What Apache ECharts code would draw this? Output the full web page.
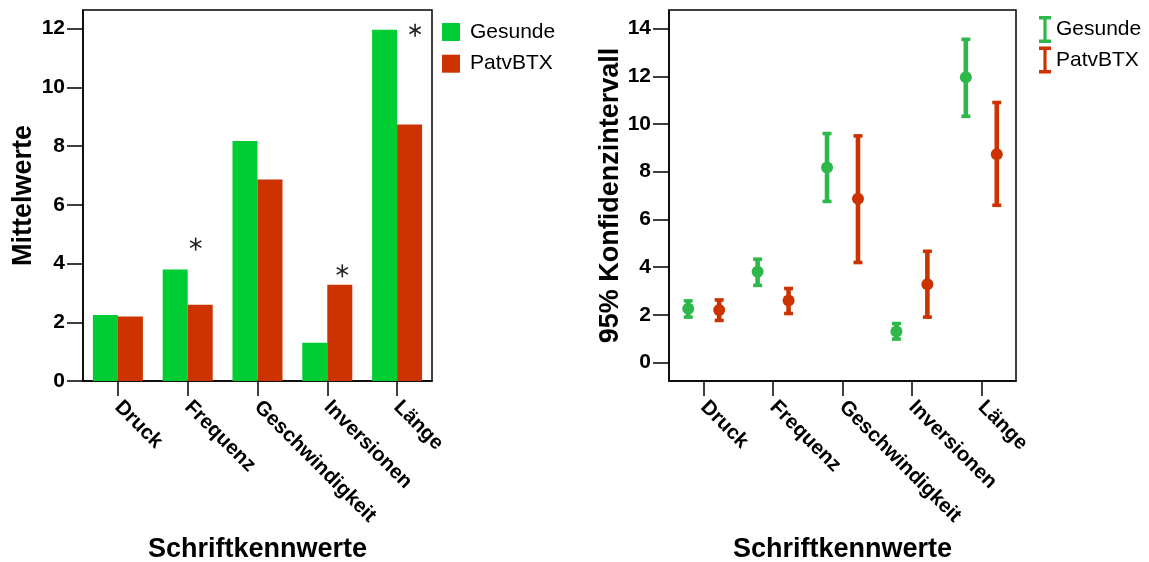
<!DOCTYPE html>
<html>
<head>
<meta charset="utf-8">
<script src="https://cdn.jsdelivr.net/npm/echarts@6/dist/echarts.min.js"></script>
<style>
  html, body { margin: 0; padding: 0; background: #fff; }
  #chart { width: 1149px; height: 562px; }
</style>
</head>
<body>
<div id="chart"></div>
<script>
// Writing parameters (Schriftkennwerte): healthy controls vs. patients
const categories = ['Druck', 'Frequenz', 'Geschwindigkeit', 'Inversionen', 'Länge'];
const groupNames = ['Gesunde', 'PatvBTX'];

// Mean values
const meanGesunde = [2.25, 3.80, 8.17, 1.30, 11.96];
const meanPatvBTX = [2.20, 2.60, 6.86, 3.28, 8.73];

// 95% confidence interval bounds
const ciLowGesunde  = [1.90, 3.23, 6.75, 0.98, 10.32];
const ciHighGesunde = [2.58, 4.33, 9.60, 1.63, 13.55];
const ciLowPatvBTX  = [1.76, 2.05, 4.19, 1.90, 6.59];
const ciHighPatvBTX = [2.62, 3.10, 9.50, 4.66, 10.90];

// Significance markers: category index and height of the asterisk
const sigCategory = [1, 3, 4];
const sigHeight   = [4.66, 3.75, 11.94];

// Tick values for both value axes
const ticksMean = [0, 2, 4, 6, 8, 10, 12];
const ticksCI   = [0, 2, 4, 6, 8, 10, 12, 14];

// ---- styling ----
const FONT = "'Liberation Sans', Arial, Helvetica, sans-serif";
const GREEN_BAR = '#00CC33';
const GREEN_CI = '#2EB84A';
const RED = '#CC3300';
const INK = '#000';
const sigShift = [8, 15, 18];   // horizontal nudge of each asterisk (px)

const chart = echarts.init(document.getElementById('chart'), null, { renderer: 'canvas' });

function valueAxis(gridIndex, min, max, ticks, title, gap) {
  return {
    type: 'value', gridIndex, min, max,
    name: title, nameLocation: 'middle', nameRotate: 90, nameGap: gap,
    nameTextStyle: { fontFamily: FONT, fontWeight: 'bold', fontSize: 27, color: INK },
    axisLine: { show: true, onZero: false, lineStyle: { color: INK, width: 1.5 } },
    axisTick: { show: true, inside: false, length: 16, customValues: ticks, lineStyle: { color: INK, width: 1.5 } },
    axisLabel: { customValues: ticks, margin: 18, fontFamily: FONT, fontWeight: 'bold', fontSize: 21, color: INK },
    splitLine: { show: false }
  };
}

function categoryAxis(gridIndex) {
  return {
    type: 'category', gridIndex, data: categories, boundaryGap: true,
    name: 'Schriftkennwerte', nameLocation: 'middle', nameGap: 155,
    nameTextStyle: { fontFamily: FONT, fontWeight: 'bold', fontSize: 27, color: INK },
    axisLine: { show: true, onZero: false, lineStyle: { color: INK, width: 1.5 } },
    axisTick: { show: true, alignWithLabel: true, length: 15, lineStyle: { color: INK, width: 1.5 } },
    axisLabel: { interval: 0, rotate: -45, margin: 23, fontFamily: FONT, fontWeight: 'bold', fontSize: 20.5, color: INK },
    splitLine: { show: false }
  };
}

// Error bar with caps and a dot at the mean, shifted left/right within the category band
function errorBar(side, color) {
  return function (params, api) {
    const i = api.value(0);
    const band = api.size([1, 0])[0];
    const mid = api.coord([i, api.value(1)]);
    const x = mid[0] + side * band * 0.223;
    const yLo = api.coord([i, api.value(2)])[1];
    const yHi = api.coord([i, api.value(3)])[1];
    const capW = 9, capH = 3.6;
    return {
      type: 'group',
      children: [
        { type: 'line', shape: { x1: x, y1: yHi, x2: x, y2: yLo }, style: { stroke: color, lineWidth: 4.6 } },
        { type: 'rect', shape: { x: x - capW / 2, y: yHi - capH / 2, width: capW, height: capH }, style: { fill: color } },
        { type: 'rect', shape: { x: x - capW / 2, y: yLo - capH / 2, width: capW, height: capH }, style: { fill: color } },
        { type: 'circle', shape: { cx: x, cy: mid[1], r: 6 }, style: { fill: color } }
      ]
    };
  };
}

// Six-spoked asterisk
function asterisk(params, api) {
  const p = api.coord([api.value(0), api.value(1)]);
  const cx = p[0] + sigShift[params.dataIndex], cy = p[1], r = 6.5;
  const spokes = [90, 30, 150].map(function (deg) {
    const a = deg * Math.PI / 180;
    const dx = r * Math.cos(a), dy = r * Math.sin(a);
    return { type: 'line', shape: { x1: cx - dx, y1: cy - dy, x2: cx + dx, y2: cy + dy },
             style: { stroke: '#222', lineWidth: 1.6 } };
  });
  return { type: 'group', children: spokes };
}

const ciIcon = 'path://M0,0 H12 V3.4 H7.6 V23.6 H12 V27 H0 V23.6 H4.4 V3.4 H0 Z';

const option = {
  backgroundColor: '#fff',
  animation: false,
  textStyle: { fontFamily: FONT },
  grid: [
    { left: 83, top: 10, width: 349, height: 371, show: true, borderColor: INK, borderWidth: 1.5,
      containLabel: false, outerBoundsMode: 'none' },
    { left: 669, top: 10, width: 347, height: 371, show: true, borderColor: INK, borderWidth: 1.5,
      containLabel: false, outerBoundsMode: 'none' }
  ],
  xAxis: [categoryAxis(0), categoryAxis(1)],
  yAxis: [
    valueAxis(0, 0, 12.63, ticksMean, 'Mittelwerte', 46),
    valueAxis(1, -0.78, 14.78, ticksCI, '95% Konfidenzintervall', 41)
  ],
  legend: [
    {
      orient: 'vertical', left: 437, top: 16.5, itemWidth: 18, itemHeight: 18, itemGap: 10.7,
      selectedMode: false,
      textStyle: { fontFamily: FONT, fontSize: 21, color: INK, padding: [0, 0, 0, 5] },
      data: [
        { name: groupNames[0], icon: 'rect', itemStyle: { color: GREEN_BAR } },
        { name: groupNames[1], icon: 'rect', itemStyle: { color: RED } }
      ]
    },
    {
      orient: 'vertical', left: 1034, top: 11, itemWidth: 12, itemHeight: 27, itemGap: 3.5,
      selectedMode: false,
      textStyle: { fontFamily: FONT, fontSize: 21, color: INK },
      data: [
        { name: groupNames[0], icon: ciIcon, itemStyle: { color: GREEN_CI } },
        { name: groupNames[1], icon: ciIcon, itemStyle: { color: RED } }
      ]
    }
  ],
  series: [
    {
      name: groupNames[0], type: 'bar', xAxisIndex: 0, yAxisIndex: 0,
      data: meanGesunde, barWidth: 25, barGap: '0%',
      itemStyle: { color: GREEN_BAR }
    },
    {
      name: groupNames[1], type: 'bar', xAxisIndex: 0, yAxisIndex: 0,
      data: meanPatvBTX, barWidth: 25, barGap: '0%',
      itemStyle: { color: RED }
    },
    {
      name: 'sig', type: 'custom', xAxisIndex: 0, yAxisIndex: 0, silent: true,
      data: sigCategory.map(function (c, k) { return [c, sigHeight[k]]; }),
      renderItem: asterisk, z: 5
    },
    {
      name: groupNames[0], type: 'custom', xAxisIndex: 1, yAxisIndex: 1, silent: true,
      data: categories.map(function (c, i) { return [i, meanGesunde[i], ciLowGesunde[i], ciHighGesunde[i]]; }),
      encode: { x: 0, y: [1, 2, 3] },
      renderItem: errorBar(-1, GREEN_CI), itemStyle: { color: GREEN_CI }
    },
    {
      name: groupNames[1], type: 'custom', xAxisIndex: 1, yAxisIndex: 1, silent: true,
      data: categories.map(function (c, i) { return [i, meanPatvBTX[i], ciLowPatvBTX[i], ciHighPatvBTX[i]]; }),
      encode: { x: 0, y: [1, 2, 3] },
      renderItem: errorBar(1, RED), itemStyle: { color: RED }
    }
  ]
};

chart.setOption(option);
</script>
</body>
</html>
